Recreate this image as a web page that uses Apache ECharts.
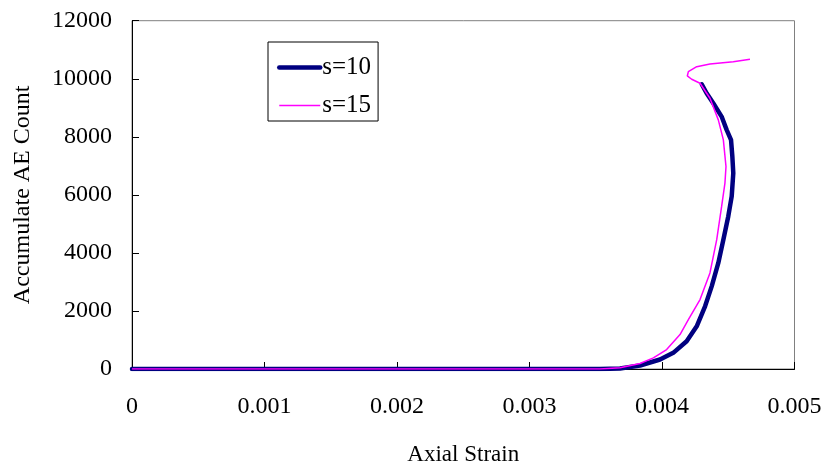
<!DOCTYPE html>
<html>
<head>
<meta charset="utf-8">
<script src="https://cdn.jsdelivr.net/npm/echarts@6/dist/echarts.min.js"></script>
<style>
  html, body { margin: 0; padding: 0; background: #ffffff; }
  #chart { width: 827px; height: 471px; }
</style>
</head>
<body>
<div id="chart"></div>
<script>
// Accumulated acoustic-emission count against axial strain, two spacings.
const seriesNames = ['s=10', 's=15'];

// s=10: [axial strain, accumulated AE count]
const strainS10 = [0, 0.0010, 0.0020, 0.0030, 0.003532, 0.003683, 0.003834, 0.003985, 0.004085, 0.004186,
  0.004262, 0.004325, 0.004375, 0.004425, 0.004463, 0.0045, 0.004526, 0.004538, 0.004531, 0.004521,
  0.004488, 0.00445, 0.004387, 0.004337, 0.0043];
const countS10 = [0, 0, 0, 0, 0, 17, 120, 327, 557, 956,
  1472, 2160, 2848, 3653, 4455, 5256, 5944, 6749, 7320, 7895,
  8239, 8697, 9157, 9501, 9811];

// s=15: [axial strain, accumulated AE count]
const strainS15 = [0, 0.0010, 0.0020, 0.0030, 0.003532, 0.003683, 0.003834, 0.003935, 0.004035, 0.004136,
  0.004199, 0.004287, 0.004362, 0.004413, 0.00445, 0.004475, 0.004483, 0.004463, 0.004425, 0.004362,
  0.004287, 0.004224, 0.004191, 0.004199, 0.004262, 0.004362, 0.004538, 0.004664];
const countS15 = [0, 0, 0, 0, 0, 41, 189, 385, 671, 1187,
  1703, 2391, 3309, 4455, 5600, 6405, 6976, 7895, 8583, 9329,
  9845, 9983, 10096, 10244, 10416, 10509, 10588, 10671];

const xTicks = { min: 0, max: 0.005, interval: 0.001 };
const yTicks = { min: 0, max: 12000, interval: 2000 };

function pairs(xs, ys) {
  return xs.map((x, i) => [x, ys[i]]);
}

const font = 'Liberation Serif, Times New Roman, serif';
const chart = echarts.init(document.getElementById('chart'), null, { renderer: 'canvas' });

chart.setOption({
  animation: false,
  backgroundColor: '#ffffff',
  grid: {
    left: 132, right: 32.5, top: 20.7, bottom: 101.5,
    show: true, borderColor: '#808080', borderWidth: 1, backgroundColor: '#ffffff'
  },
  legend: {
    orient: 'vertical',
    left: 268, top: 42,
    padding: [13, 7, 3, 9],
    itemGap: 13,
    itemWidth: 41, itemHeight: 14,
    borderColor: '#000000', borderWidth: 1,
    backgroundColor: '#ffffff',
    itemStyle: { opacity: 0 },
    textStyle: { fontFamily: font, fontSize: 25, color: '#000000', lineHeight: 25, padding: [0, 0, 0, -3] },
    data: [
      { name: seriesNames[0], lineStyle: { width: 4.5 } },
      { name: seriesNames[1], lineStyle: { width: 1.5 } }
    ]
  },
  xAxis: {
    type: 'value',
    min: xTicks.min, max: xTicks.max, interval: xTicks.interval,
    name: 'Axial Strain',
    nameLocation: 'middle',
    nameGap: 74,
    nameTextStyle: { fontFamily: font, fontSize: 23, color: '#000000' },
    axisLine: { show: true, onZero: false, lineStyle: { color: '#000000', width: 1 } },
    axisTick: { show: true, inside: true, length: 7, lineStyle: { color: '#000000' } },
    axisLabel: {
      fontFamily: font, fontSize: 24, color: '#000000', margin: 26,
      formatter: v => (v === 0 ? '0' : v.toFixed(3))
    },
    splitLine: { show: false }
  },
  yAxis: {
    type: 'value',
    min: yTicks.min, max: yTicks.max, interval: yTicks.interval,
    name: 'Accumulate AE Count',
    nameLocation: 'middle',
    nameGap: 97,
    nameTextStyle: { fontFamily: font, fontSize: 24, color: '#000000' },
    axisLine: { show: true, lineStyle: { color: '#000000', width: 1 } },
    axisTick: { show: true, inside: true, length: 7, lineStyle: { color: '#000000' } },
    axisLabel: {
      fontFamily: font, fontSize: 24, color: '#000000', margin: 20,
      formatter: v => String(v)
    },
    splitLine: { show: false }
  },
  series: [
    {
      name: seriesNames[0],
      type: 'line',
      data: pairs(strainS10, countS10),
      symbol: 'none',
      smooth: false,
      lineStyle: { color: '#000080', width: 4.5, join: 'round', cap: 'round' },
      itemStyle: { color: '#000080' },
      z: 2
    },
    {
      name: seriesNames[1],
      type: 'line',
      data: pairs(strainS15, countS15),
      symbol: 'none',
      smooth: false,
      lineStyle: { color: '#ff00ff', width: 1.5 },
      itemStyle: { color: '#ff00ff' },
      z: 3
    }
  ]
});
</script>
</body>
</html>
